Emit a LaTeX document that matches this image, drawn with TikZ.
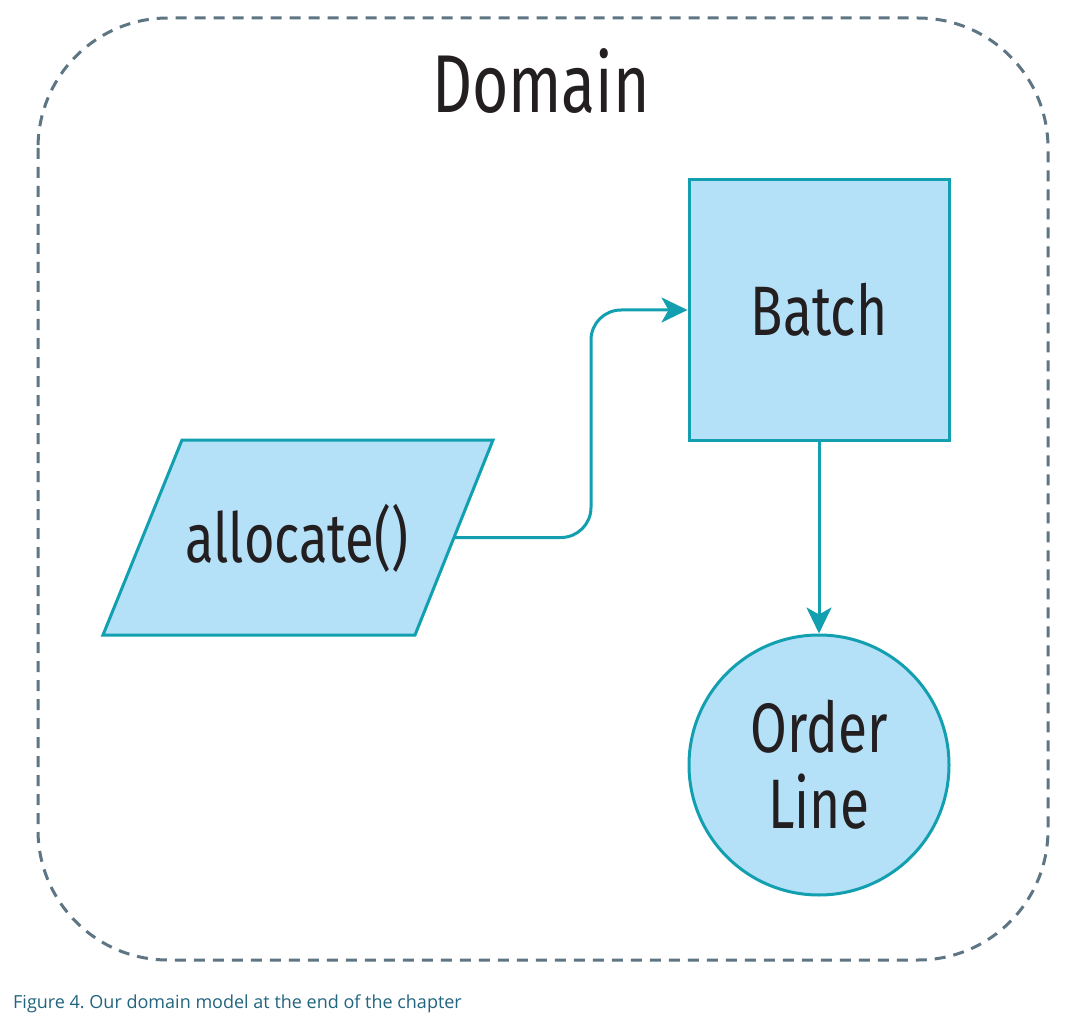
\documentclass[tikz,border=0pt]{standalone}
\usepackage{fontspec}
\setmainfont{Open Sans}
\newfontfamily\condfont[FakeStretch=0.76]{Fira Sans}
\usetikzlibrary{arrows.meta}
\definecolor{tealc}{HTML}{12A0B0}
\definecolor{lblue}{HTML}{B5E1F8}
\definecolor{dashgray}{HTML}{5E7684}
\definecolor{ink}{HTML}{231F20}
\definecolor{capc}{HTML}{22657F}
\tikzset{
  shapebox/.style={draw=tealc, fill=lblue, line width=3pt},
  conn/.style={draw=tealc, line width=3pt, -{Stealth[length=26pt,width=25pt,inset=7pt]}},
  lbl/.style={font=\condfont\fontsize{70}{76}\selectfont, text=ink, align=center},
}
\begin{document}
\frenchspacing
\begin{tikzpicture}[x=1pt,y=-1pt]
\useasboundingbox (0,0) rectangle (1069,1035);
\fill[white] (0,0) rectangle (1069,1035);
% domain border
\draw[draw=dashgray, line width=3pt, dash pattern=on 11pt off 8pt, rounded corners=130pt] (38,18) rectangle (1048,960);
\node[font=\condfont\fontsize{82}{84}\selectfont, text=ink] (domain) at (541,81) {Domain};
% batch
\node[shapebox, minimum width=260pt, minimum height=260pt, inner sep=0pt, lbl] (batch) at (819,310) {Batch};
% order line
\node[shapebox, circle, minimum size=260pt, inner sep=0pt, lbl] (orderline) at (819,765) {Order\\Line};
% allocate parallelogram
\draw[shapebox] (182,440) -- (493,440) -- (415,635) -- (103,635) -- cycle;
\node[lbl, font=\condfont\fontsize{69}{76}\selectfont] (alloc) at (297,538) {allocate()};
\coordinate (allocE) at (454,537.5);
% connectors
\draw[conn, rounded corners=30pt] (allocE) -- (591,537.5) |- (batch.west);
\draw[conn] (batch.south) -- (orderline.north);
% caption
\node[anchor=base west, inner sep=0pt, text=capc, font=\fontsize{18}{20}\selectfont] (caption) at (13,1008) {Figure 4. Our domain model at the end of the chapter};
\end{tikzpicture}
\end{document}
